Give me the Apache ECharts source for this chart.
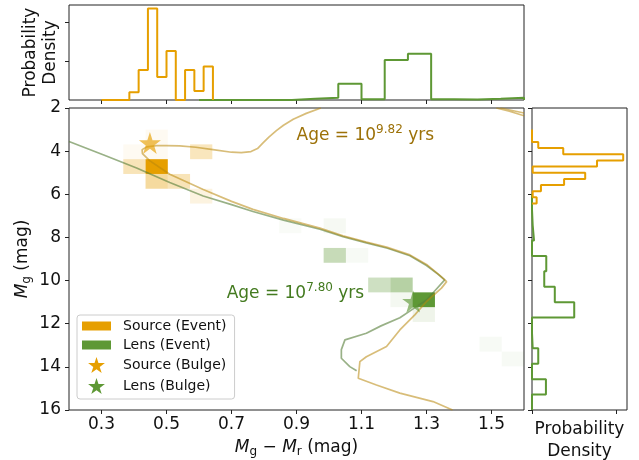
<!DOCTYPE html>
<html>
<head>
<meta charset="utf-8">
<script src="https://cdn.jsdelivr.net/npm/echarts@6/dist/echarts.min.js"></script>
<style>
  html, body { margin: 0; padding: 0; background: #fff; }
  #chart { width: 639px; height: 460px; }
</style>
</head>
<body>
<div id="chart"></div>
<script>
// ---- axis ticks ----
const colorTicks = [0.3, 0.5, 0.7, 0.9, 1.1, 1.3, 1.5];
const magTicks = [2, 4, 6, 8, 10, 12, 14, 16];

// ---- top marginal: g - r colour densities ----
const srcColorEdge0 = 0.3;
const srcColorBin = 0.2 / 7;
const srcColorDensity = [0, 0, 0, 1.0, 3.85, 11.75, 2.95, 6.3, 0, 3.85, 1.15, 4.3];
const lensColorEdge0 = 0.6;
const lensColorBin = 1 / 14;
const lensColorDensity = [0, 0, 0, 0, 0.15, 0.3, 2.1, 0.1, 5.15, 5.95, 0.1, 0.05, 0.15, 0.3];

// ---- right marginal: M_g densities ----
const srcMagEdge0 = 3.0;
const srcMagBin = 2 / 7;
const srcMagDensity = [0, 0, 0.074, 0.37, 1.08, 0.77, 0.008, 0.63, 0.38, 0.106, 0.008, 0.055];
const lensMagEdge0 = 6.0;
const lensMagBin = 10 / 14;
const lensMagDensity = [0, 0.008, 0.024, 0, 0.169, 0.145, 0.27, 0.50, 0, 0.008, 0.074, 0, 0.165, 0];

// ---- 2-D histogram of the event samples ----
const cellX0 = 0.367, cellDX = 0.0685, cellY0 = 3.0, cellDY = 0.686;
const srcCellCol    = [0,    1,    1,    0,    1,   1,    2,    3,    3];
const srcCellRow    = [1,    0,    1,    2,    2,   3,    3,    1,    4];
const srcCellWeight = [0.05, 0.05, 0.05, 0.28, 1.0, 0.38, 0.28, 0.26, 0.12];
const lensCellCol    = [7,    9,    9,    10,   11,  12,   12,   13,  13,  16,   17];
const lensCellRow    = [6,    6,    8,    8,    10,  10,   11,   11,  12,  14,   15];
const lensCellWeight = [0.04, 0.06, 0.35, 0.05, 0.3, 0.45, 0.07, 1.0, 0.1, 0.05, 0.05];

// ---- isochrones ----
const isoOldColor = [0.975, 0.93, 0.89, 0.86, 0.838, 0.815, 0.797, 0.78, 0.76, 0.73, 0.70, 0.643, 0.59, 0.541, 0.50, 0.469, 0.44, 0.425, 0.426, 0.449, 0.51, 0.613, 0.70, 0.766, 0.86, 0.972, 1.043, 1.115, 1.177, 1.249, 1.30, 1.34, 1.362, 1.346, 1.30, 1.264, 1.218, 1.177, 1.115, 1.095, 1.09, 1.146, 1.218, 1.32, 1.38, null, 1.515, 1.555, 1.6, null, 1.527, 1.6];
const isoOldMag   = [2.0, 2.25, 2.52, 2.8, 3.05, 3.35, 3.62, 3.88, 4.02, 4.07, 4.05, 3.93, 3.82, 3.76, 3.74, 3.74, 3.8, 3.93, 4.12, 4.45, 5.07, 5.78, 6.33, 6.7, 7.12, 7.57, 7.93, 8.22, 8.45, 8.81, 9.25, 9.75, 10.05, 10.35, 10.97, 11.59, 12.29, 13.06, 13.53, 13.76, 14.53, 14.84, 15.22, 15.61, 16.0, null, 2.0, 2.15, 2.36, null, 2.0, 2.23];
const isoYoungColor = [0.2, 0.305, 0.408, 0.51, 0.613, 0.70, 0.766, 0.86, 0.972, 1.043, 1.115, 1.18, 1.249, 1.30, 1.335, 1.356, 1.33, 1.30, 1.26, 1.218, 1.16, 1.115, 1.049, 1.038, 1.038, 1.064, 1.085];
const isoYoungMag   = [3.55, 4.17, 4.78, 5.45, 6.08, 6.48, 6.8, 7.2, 7.62, 7.96, 8.25, 8.5, 8.85, 9.3, 9.7, 9.97, 10.4, 10.9, 11.3, 11.72, 12.1, 12.44, 12.75, 13.2, 13.6, 13.99, 14.18];

// ---- bulge reference stars ----
const srcBulge = [0.449, 3.62];
const lensBulge = [1.259, 10.97];

// ---- age labels ----
const oldAgeAnchor = [0.9, 3.3];
const youngAgeAnchor = [0.685, 10.6];

const ORANGE = '#E69F00';
const GREEN = '#5E9835';
const FONT = 'DejaVu Sans';
const STAR = 'path://M50,0L61.2,34.5L97.6,34.5L68.2,55.9L79.4,90.5L50,69.1L20.6,90.5L31.8,55.9L2.4,34.5L38.8,34.5Z';

// outline of a step histogram (along x, or along y when vertical)
function stepOutline(edge0, bin, vals, vertical) {
  const pts = [];
  const push = (pos, v) => pts.push(vertical ? [v, pos] : [pos, v]);
  push(edge0, 0);
  vals.forEach((v, k) => {
    push(edge0 + k * bin, v);
    push(edge0 + (k + 1) * bin, v);
  });
  push(edge0 + vals.length * bin, 0);
  return pts;
}

function cellRects(cols, rows, weights) {
  return cols.map((c, k) => [
    cellX0 + c * cellDX, cellY0 + rows[k] * cellDY,
    cellX0 + (c + 1) * cellDX, cellY0 + (rows[k] + 1) * cellDY,
    weights[k]
  ]);
}

function zip(xs, ys) {
  return xs.map((x, k) => (x === null ? '-' : [x, ys[k]]));
}

function cellSeries(name, color, data) {
  return {
    type: 'custom', name, xAxisIndex: 0, yAxisIndex: 0, z: 1,
    itemStyle: { color },
    encode: { x: [0, 2], y: [1, 3] },
    renderItem(params, api) {
      const a = api.coord([api.value(0), api.value(1)]);
      const b = api.coord([api.value(2), api.value(3)]);
      return {
        type: 'rect',
        shape: { x: Math.min(a[0], b[0]), y: Math.min(a[1], b[1]),
                 width: Math.abs(b[0] - a[0]), height: Math.abs(b[1] - a[1]) },
        style: { fill: color, opacity: api.value(4) }
      };
    },
    data
  };
}

function ageLabel(name, anchor, exponent, color) {
  return {
    type: 'scatter', name, xAxisIndex: 0, yAxisIndex: 0, z: 6,
    symbolSize: 0, silent: true,
    itemStyle: { opacity: 1 },
    label: {
      show: true, position: 'right', distance: 0,
      formatter: '{a|Age = 10}{p|' + exponent + '}{a| yrs}',
      rich: {
        a: { fontSize: 17, color, fontFamily: FONT },
        p: { fontSize: 12, color, fontFamily: FONT, padding: [0, 0, 12, 0] }
      }
    },
    data: [anchor]
  };
}

const tickStyle = { show: true, length: 4, lineStyle: { color: '#222', width: 1 } };
const gridBox = { show: true, borderColor: '#222', borderWidth: 1, backgroundColor: '#fff',
                  containLabel: false, outerBoundsMode: 'none' };
const mathRich = {
  i: { fontSize: 17, fontStyle: 'italic', fontFamily: FONT, color: '#111' },
  s: { fontSize: 12, fontFamily: FONT, color: '#111', padding: [8, 0, 0, 0] },
  n: { fontSize: 17, fontFamily: FONT, color: '#111' }
};

const chart = echarts.init(document.getElementById('chart'), null, { renderer: 'canvas' });

chart.setOption({
  animation: false,
  backgroundColor: '#fff',
  textStyle: { fontFamily: FONT },
  grid: [
    Object.assign({ left: 69, top: 108, width: 455, height: 302 }, gridBox),
    Object.assign({ left: 69, top: 5, width: 455, height: 95 }, gridBox),
    Object.assign({ left: 532, top: 108, width: 95, height: 302 }, gridBox)
  ],
  xAxis: [
    {
      gridIndex: 0, type: 'value', min: 0.2, max: 1.6,
      axisLine: { show: false }, splitLine: { show: false },
      axisTick: Object.assign({ customValues: colorTicks }, tickStyle),
      axisLabel: { customValues: colorTicks, formatter: v => v.toFixed(1),
                   fontSize: 17, color: '#111', margin: 6, fontFamily: FONT },
      name: '{i|M}{s|g}{n| − }{i|M}{s|r}{n| (mag)}',
      nameLocation: 'middle', nameGap: 28, nameMoveOverlap: false,
      nameTextStyle: { rich: mathRich }
    },
    {
      gridIndex: 1, type: 'value', min: 0.2, max: 1.6,
      axisLine: { show: false }, splitLine: { show: false },
      axisTick: Object.assign({ customValues: colorTicks }, tickStyle),
      axisLabel: { show: false }
    },
    {
      gridIndex: 2, type: 'value', min: 0, max: 1.125,
      axisLine: { show: false }, splitLine: { show: false },
      axisTick: Object.assign({ customValues: [0, 1] }, tickStyle),
      axisLabel: { show: false },
      name: 'Probability\nDensity', nameLocation: 'middle', nameGap: 9, nameMoveOverlap: false,
      nameTextStyle: { fontSize: 17, color: '#111', lineHeight: 22, verticalAlign: 'top' }
    }
  ],
  yAxis: [
    {
      gridIndex: 0, type: 'value', inverse: true, min: 2, max: 16, interval: 2,
      axisLine: { show: false }, splitLine: { show: false },
      axisTick: tickStyle,
      axisLabel: { fontSize: 17, color: '#111', margin: 8, fontFamily: FONT },
      name: '{i|M}{s|g}{n| (mag)}', nameLocation: 'middle', nameGap: 36, nameRotate: 90,
      nameMoveOverlap: false,
      nameTextStyle: { rich: mathRich }
    },
    {
      gridIndex: 1, type: 'value', min: 0, max: 12.2,
      axisLine: { show: false }, splitLine: { show: false },
      axisTick: Object.assign({ customValues: [5, 10] }, tickStyle),
      axisLabel: { show: false },
      name: 'Probability\nDensity', nameLocation: 'middle', nameGap: 8, nameRotate: 90,
      nameMoveOverlap: false,
      nameTextStyle: { fontSize: 17, color: '#111', lineHeight: 20 }
    },
    {
      gridIndex: 2, type: 'value', inverse: true, min: 2, max: 16, interval: 2,
      axisLine: { show: false }, splitLine: { show: false },
      axisTick: tickStyle,
      axisLabel: { show: false }
    }
  ],
  legend: {
    left: 77, top: 315, orient: 'vertical',
    itemWidth: 29, itemHeight: 16, itemGap: 5,
    padding: [4, 8, 5, 5],
    borderColor: '#ccc', borderWidth: 1, borderRadius: 3,
    backgroundColor: 'rgba(255,255,255,0.85)',
    selectedMode: false,
    textStyle: { fontSize: 14, color: '#111', fontFamily: FONT, padding: [0, 0, 0, 7] },
    data: [
      { name: 'Source (Event)', icon: 'path://M0,0H29V9H0Z', itemStyle: { color: ORANGE } },
      { name: 'Lens (Event)', icon: 'path://M0,0H29V9H0Z', itemStyle: { color: GREEN } },
      { name: 'Source (Bulge)', icon: STAR, itemStyle: { color: ORANGE, opacity: 1 } },
      { name: 'Lens (Bulge)', icon: STAR, itemStyle: { color: GREEN, opacity: 1 } }
    ]
  },
  series: [
    cellSeries('Source (Event)', ORANGE, cellRects(srcCellCol, srcCellRow, srcCellWeight)),
    cellSeries('Lens (Event)', GREEN, cellRects(lensCellCol, lensCellRow, lensCellWeight)),
    {
      type: 'line', name: 'iso-young', xAxisIndex: 0, yAxisIndex: 0, z: 3,
      showSymbol: false, silent: true,
      lineStyle: { color: 'rgba(85,125,55,0.6)', width: 1.7 },
      data: zip(isoYoungColor, isoYoungMag)
    },
    {
      type: 'line', name: 'iso-old', xAxisIndex: 0, yAxisIndex: 0, z: 3,
      showSymbol: false, silent: true, connectNulls: false,
      lineStyle: { color: 'rgba(184,134,11,0.55)', width: 1.7 },
      data: zip(isoOldColor, isoOldMag)
    },
    {
      type: 'scatter', name: 'Source (Bulge)', xAxisIndex: 0, yAxisIndex: 0, z: 5,
      symbol: STAR, symbolSize: 22,
      itemStyle: { color: ORANGE, opacity: 0.65 },
      data: [srcBulge]
    },
    {
      type: 'scatter', name: 'Lens (Bulge)', xAxisIndex: 0, yAxisIndex: 0, z: 5,
      symbol: STAR, symbolSize: 22,
      itemStyle: { color: GREEN, opacity: 0.65 },
      data: [lensBulge]
    },
    ageLabel('age-old', oldAgeAnchor, '9.82', '#9C7108'),
    ageLabel('age-young', youngAgeAnchor, '7.80', '#437A1F'),
    {
      type: 'line', name: 'lens-color-hist', xAxisIndex: 1, yAxisIndex: 1, z: 3,
      showSymbol: false, silent: true,
      lineStyle: { color: GREEN, width: 2 },
      data: stepOutline(lensColorEdge0, lensColorBin, lensColorDensity, false)
    },
    {
      type: 'line', name: 'src-color-hist', xAxisIndex: 1, yAxisIndex: 1, z: 4,
      showSymbol: false, silent: true,
      lineStyle: { color: ORANGE, width: 2 },
      data: stepOutline(srcColorEdge0, srcColorBin, srcColorDensity, false)
    },
    {
      type: 'line', name: 'lens-mag-hist', xAxisIndex: 2, yAxisIndex: 2, z: 3,
      showSymbol: false, silent: true,
      lineStyle: { color: GREEN, width: 2 },
      data: stepOutline(lensMagEdge0, lensMagBin, lensMagDensity, true)
    },
    {
      type: 'line', name: 'src-mag-hist', xAxisIndex: 2, yAxisIndex: 2, z: 4,
      showSymbol: false, silent: true,
      lineStyle: { color: ORANGE, width: 2 },
      data: stepOutline(srcMagEdge0, srcMagBin, srcMagDensity, true)
    }
  ]
});
</script>
</body>
</html>
